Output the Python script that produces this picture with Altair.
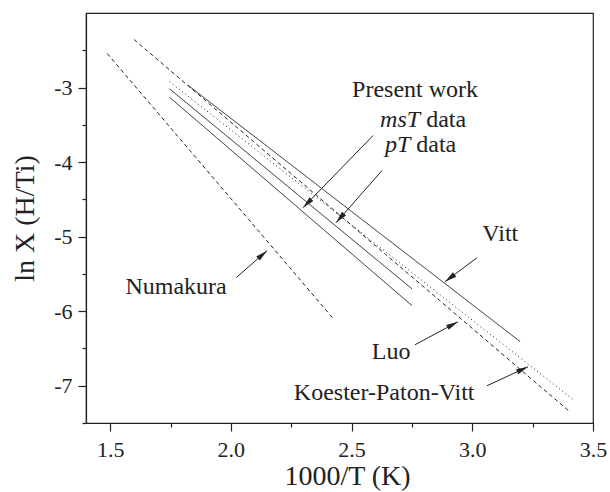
import math
import altair as alt
import pandas as pd

# ---------------- data ----------------
line_names = ["Numakura", "Koester-Paton-Vitt", "Luo", "Vitt", "msT", "pT"]
line_styles = ["dashed", "dashed", "dotted", "solid", "solid", "solid"]
line_x0 = [1.488, 1.599, 1.746, 1.824, 1.746, 1.746]
line_y0 = [-2.544, -2.356, -2.920, -2.973, -3.130, -3.017]
line_x1 = [2.425, 3.403, 3.419, 3.198, 2.750, 2.750]
line_y1 = [-6.103, -7.346, -7.189, -6.407, -5.924, -5.700]

label_text = ["Present work", "Vitt", "Luo", "Koester-Paton-Vitt", "Numakura"]
label_x = [2.763, 3.116, 2.664, 2.635, 1.773]
label_y = [-3.121, -5.052, -6.635, -7.185, -5.763]

ital_text = ["msT", "pT"]
ital_x = [2.784, 2.743]
ital_y = [-3.523, -3.858]
data_text = ["data", "data"]
data_x = [2.809, 2.768]

arrow_x0 = [2.589, 2.626, 3.020, 2.763, 3.061, 2.022]
arrow_y0 = [-3.644, -4.114, -5.282, -6.450, -7.000, -5.550]
arrow_x1 = [2.299, 2.436, 2.887, 2.941, 3.231, 2.150]
arrow_y1 = [-4.611, -4.812, -5.604, -6.141, -6.745, -5.188]

x_domain = [1.4, 3.5]
y_domain = [-7.5, -2.0]
x_ticks = [1.5, 1.75, 2.0, 2.25, 2.5, 2.75, 3.0, 3.25, 3.5]
y_ticks = [-7.5, -7.0, -6.5, -6.0, -5.5, -5.0, -4.5, -4.0, -3.5, -3.0, -2.5]

W, H = 507, 410
FONT = "Liberation Serif"
INK = "#222222"

# ---------------- tables ----------------
rows = []
for n, s, a, b, c, d in zip(line_names, line_styles, line_x0, line_y0, line_x1, line_y1):
    rows.append({"series": n, "style": s, "x": a, "y": b, "o": 0})
    rows.append({"series": n, "style": s, "x": c, "y": d, "o": 1})
lines_df = pd.DataFrame(rows)

sx = W / (x_domain[1] - x_domain[0])
sy = H / (y_domain[1] - y_domain[0])
angles = []
for a, b, c, d in zip(arrow_x0, arrow_y0, arrow_x1, arrow_y1):
    dx = (c - a) * sx
    dy = -(d - b) * sy
    angles.append(math.degrees(math.atan2(dx, -dy)) % 360)
arrows_df = pd.DataFrame({"x": arrow_x0, "y": arrow_y0, "x2": arrow_x1,
                          "y2": arrow_y1, "angle": angles})

labels_df = pd.DataFrame({"x": label_x, "y": label_y, "t": label_text})
ital_df = pd.DataFrame({"x": ital_x, "y": ital_y, "t": ital_text})
data_df = pd.DataFrame({"x": data_x, "y": ital_y, "t": data_text})

# ---------------- scales / axes ----------------
xs = alt.Scale(domain=x_domain, nice=False, zero=False)
ys = alt.Scale(domain=y_domain, nice=False, zero=False)

x_major = "abs(datum.value*2 - round(datum.value*2)) < 1e-6"
y_major = "abs(datum.value - round(datum.value)) < 1e-6"

x_axis = alt.Axis(
    values=x_ticks, title="1000/T (K)", grid=False,
    labelExpr=f"({x_major}) ? format(datum.value, '.1f') : ''",
    tickSize={"condition": {"test": x_major, "value": 8}, "value": 4},
    tickColor=INK, tickWidth=1.2, domainColor=INK, domainWidth=1.2,
    labelFont=FONT, labelFontSize=22, labelColor=INK, labelPadding=8,
    labelFlush=False, labelOverlap=False,
    titleFont=FONT, titleFontSize=28, titleFontWeight="normal", titleColor=INK,
    titlePadding=2, titleX=261,
)
y_axis = alt.Axis(
    values=y_ticks, title="ln X (H/Ti)", grid=False,
    labelExpr=f"({y_major}) ? ('' + round(datum.value)) : ''",
    tickSize={"condition": {"test": y_major, "value": 8}, "value": 4},
    tickColor=INK, tickWidth=1.2, domainColor=INK, domainWidth=1.2,
    labelFont=FONT, labelFontSize=22, labelColor=INK, labelPadding=6,
    labelFlush=False, labelOverlap=False,
    titleFont=FONT, titleFontSize=28, titleFontWeight="normal", titleColor=INK,
    titlePadding=14,
)

X = alt.X("x:Q", scale=xs, axis=x_axis)
Y = alt.Y("y:Q", scale=ys, axis=y_axis)

lines = alt.Chart(lines_df).mark_line(strokeWidth=1.0, color=INK).encode(
    x=X, y=Y, detail="series:N", order="o:Q",
    strokeDash=alt.StrokeDash(
        "style:N",
        scale=alt.Scale(domain=["solid", "dashed", "dotted"],
                        range=[[1, 0], [4, 3], [1, 3]]),
        legend=None),
)

arrow_shafts = alt.Chart(arrows_df).mark_rule(strokeWidth=1.0, color=INK).encode(
    x=X, y=Y, x2="x2:Q", y2="y2:Q")

arrow_heads = alt.Chart(arrows_df).mark_point(
    shape="M0,0L0.45,2L-0.45,2Z", filled=True, size=144, color=INK, opacity=1
).encode(
    x=alt.X("x2:Q", scale=xs, axis=x_axis),
    y=alt.Y("y2:Q", scale=ys, axis=y_axis),
    angle=alt.Angle("angle:Q", scale=None),
)

labels = alt.Chart(labels_df).mark_text(
    font=FONT, fontSize=24, color=INK, align="center", baseline="alphabetic"
).encode(x=X, y=Y, text="t:N")

ital = alt.Chart(ital_df).mark_text(
    font=FONT, fontSize=24, fontStyle="italic", color=INK, align="right",
    baseline="alphabetic"
).encode(x=X, y=Y, text="t:N")

data_lbl = alt.Chart(data_df).mark_text(
    font=FONT, fontSize=24, color=INK, align="left", baseline="alphabetic"
).encode(x=X, y=Y, text="t:N")

chart = alt.layer(lines, arrow_shafts, arrow_heads, labels, ital, data_lbl).properties(
    width=W, height=H,
    autosize=alt.AutoSizeParams(type="none"),
    padding={"left": 86, "top": 13, "right": 17, "bottom": 69},
    background="white",
).configure_view(stroke=INK, strokeWidth=1.2)

chart.save("out.html", embed_options={"renderer": "svg", "actions": False})
